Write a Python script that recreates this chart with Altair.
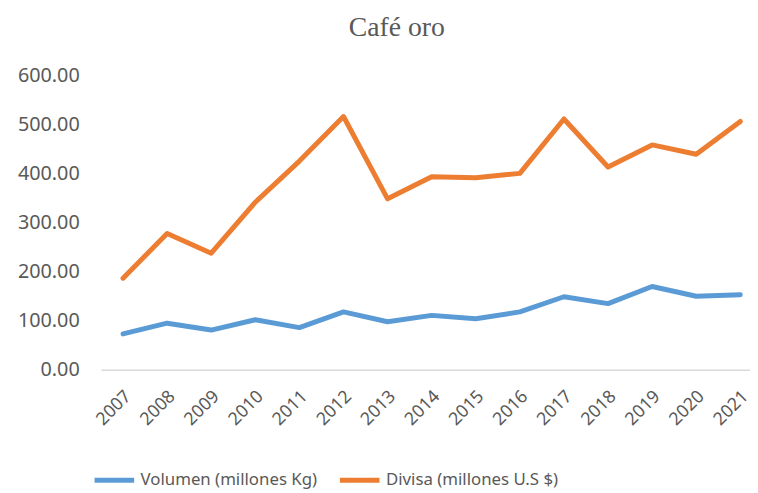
import altair as alt
import pandas as pd

years = list(range(2007, 2022))
volumen = [73, 95, 81, 102, 86, 118, 98, 111, 104, 118, 149, 135, 170, 150, 153]
divisa = [187, 278, 238, 342, 426, 517, 349, 394, 392, 401, 512, 414, 459, 440, 507]
series_names = ["Volumen (millones Kg)", "Divisa (millones U.S $)"]
colors = ["#5B9BD5", "#ED7D31"]
y_ticks = [0, 100, 200, 300, 400, 500, 600]

rows = []
for y, v in zip(years, volumen):
    rows.append({"year": y, "value": v, "serie": series_names[0]})
for y, d in zip(years, divisa):
    rows.append({"year": y, "value": d, "serie": series_names[1]})
df = pd.DataFrame(rows)

FONT = "Noto Sans"
GREY = "#595959"

chart = alt.Chart(df).mark_line(strokeWidth=5, strokeCap="round", strokeJoin="round", clip=False).encode(
    x=alt.X("year:Q",
            scale=alt.Scale(domain=[2006.5, 2021.22], nice=False, zero=False),
            axis=alt.Axis(values=years, format="d", title=None, labelAngle=-45,
                          labelAlign="right", labelBaseline="middle", labelPadding=24,
                          labelOffset=5,
                          ticks=False, grid=False, domainColor="#D9D9D9", domainWidth=1.5,
                          labelFont=FONT, labelFontSize=18, labelColor=GREY, labelOverlap=False)),
    y=alt.Y("value:Q",
            scale=alt.Scale(domain=[0, 600], nice=False),
            axis=alt.Axis(values=y_ticks, format=".2f", title=None, ticks=False, grid=False,
                          domain=False, labelFont=FONT, labelFontSize=20, labelColor=GREY,
                          labelPadding=22)),
    color=alt.Color("serie:N",
                    scale=alt.Scale(domain=series_names, range=colors),
                    legend=alt.Legend(title=None, orient="none", direction="horizontal",
                                      legendX=-9, legendY=386,
                                      symbolType="stroke", symbolStrokeWidth=5, symbolSize=1600,
                                      labelFont=FONT, labelFontSize=17, labelColor=GREY,
                                      labelLimit=400, labelOffset=4, columnPadding=12)),
    order=alt.Order("year:Q"),
).properties(
    width=656,
    height=297,
    title=alt.TitleParams("Café oro", font="Liberation Serif", fontSize=28, fontWeight="normal",
                          color=GREY, anchor="middle", dx=-29, offset=24),
    autosize=alt.AutoSizeParams(type="none"),
    padding={"left": 94, "top": 66, "right": 0, "bottom": 122},
).configure_view(stroke=None)

chart.save("out.html", embed_options={"renderer": "svg", "actions": False})
